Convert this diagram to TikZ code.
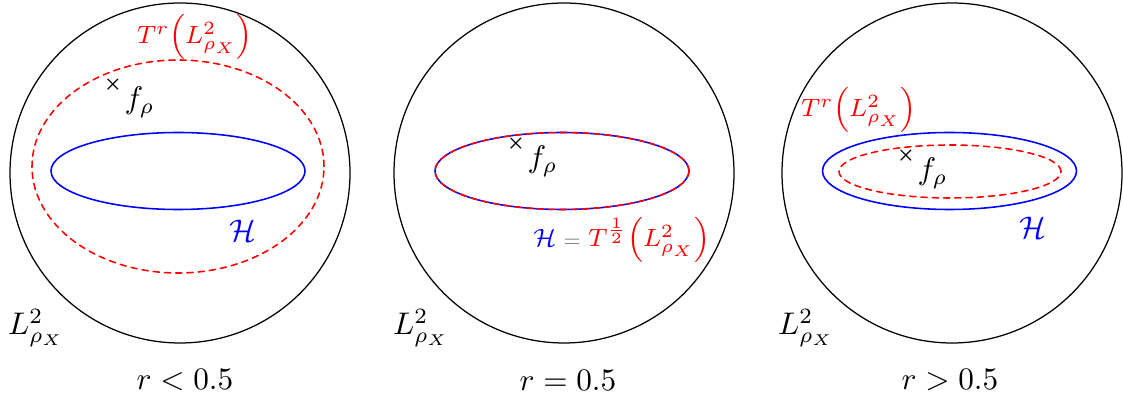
\documentclass[tikz,border=0pt]{standalone}
\usepackage{amsmath,amssymb}
\usepackage{tikz}
\usetikzlibrary{arrows.meta}
\usepackage{xcolor}

\begin{document}
\begin{tikzpicture}[x=32pt,y=32pt,line cap=round,
  hilb/.style={blue,line width=0.5pt},
  img/.style={red,line width=0.5pt,dash pattern=on 2pt off 1.6pt},
  mk/.style={inner sep=0pt,font=\tiny},
  fr/.style={anchor=north west,inner sep=0pt}]
\useasboundingbox (0,0) rectangle (11.23,4.01);
% r < 0.5
\draw (1.80,2.28) circle (1.70);
\draw[img] (1.78,2.345) ellipse (1.46 and 1.065);
\draw[hilb] (1.78,2.30) ellipse (1.27 and 0.385);
\node[mk] (x1) at (1.13,3.16) {$\boldsymbol{\times}$};
\node[fr] (f1) at ([shift={(0.11,-0.01)}]x1.center) {$f_\rho$};
\node[red,font=\footnotesize] (t1) at (1.95,3.64) {$T^r\!\left(L^2_{\rho_X}\right)$};
\node[blue] (h1) at (2.43,1.70) {$\mathcal{H}$};
\node (l1) at (0.36,0.73) {$L^2_{\rho_X}$};
\node (r1) at (1.85,0.21) {$r<0.5$};
% r = 0.5
\draw (5.64,2.28) circle (1.70);
\draw[hilb] (5.62,2.30) ellipse (1.27 and 0.385);
\draw[img] (5.62,2.30) ellipse (1.27 and 0.385);
\node[mk] (x2) at (5.16,2.57) {$\boldsymbol{\times}$};
\node[fr] (f2) at ([shift={(0.11,-0.01)}]x2.center) {$f_\rho$};
\node[font=\footnotesize] (h2) at (6.22,1.61)
  {$\textcolor{blue}{\mathcal{H}}\mathrel{\textcolor{gray}{\scriptstyle=}}\textcolor{red}{T^{\frac{1}{2}}\!\left(L^2_{\rho_X}\right)}$};
\node (l2) at (4.21,0.73) {$L^2_{\rho_X}$};
\node (r2) at (5.68,0.21) {$r=0.5$};
% r > 0.5
\draw (9.52,2.28) circle (1.70);
\draw[hilb] (9.495,2.30) ellipse (1.27 and 0.385);
\draw[img] (9.50,2.295) ellipse (1.11 and 0.265);
\node[mk] (x3) at (9.06,2.45) {$\boldsymbol{\times}$};
\node[fr] (f3) at ([shift={(0.11,-0.01)}]x3.center) {$f_\rho$};
\node[red,font=\footnotesize] (t3) at (8.59,2.91) {$T^r\!\left(L^2_{\rho_X}\right)$};
\node[blue] (h3) at (10.33,1.73) {$\mathcal{H}$};
\node (l3) at (8.06,0.73) {$L^2_{\rho_X}$};
\node (r3) at (9.50,0.21) {$r>0.5$};
\end{tikzpicture}
\end{document}
